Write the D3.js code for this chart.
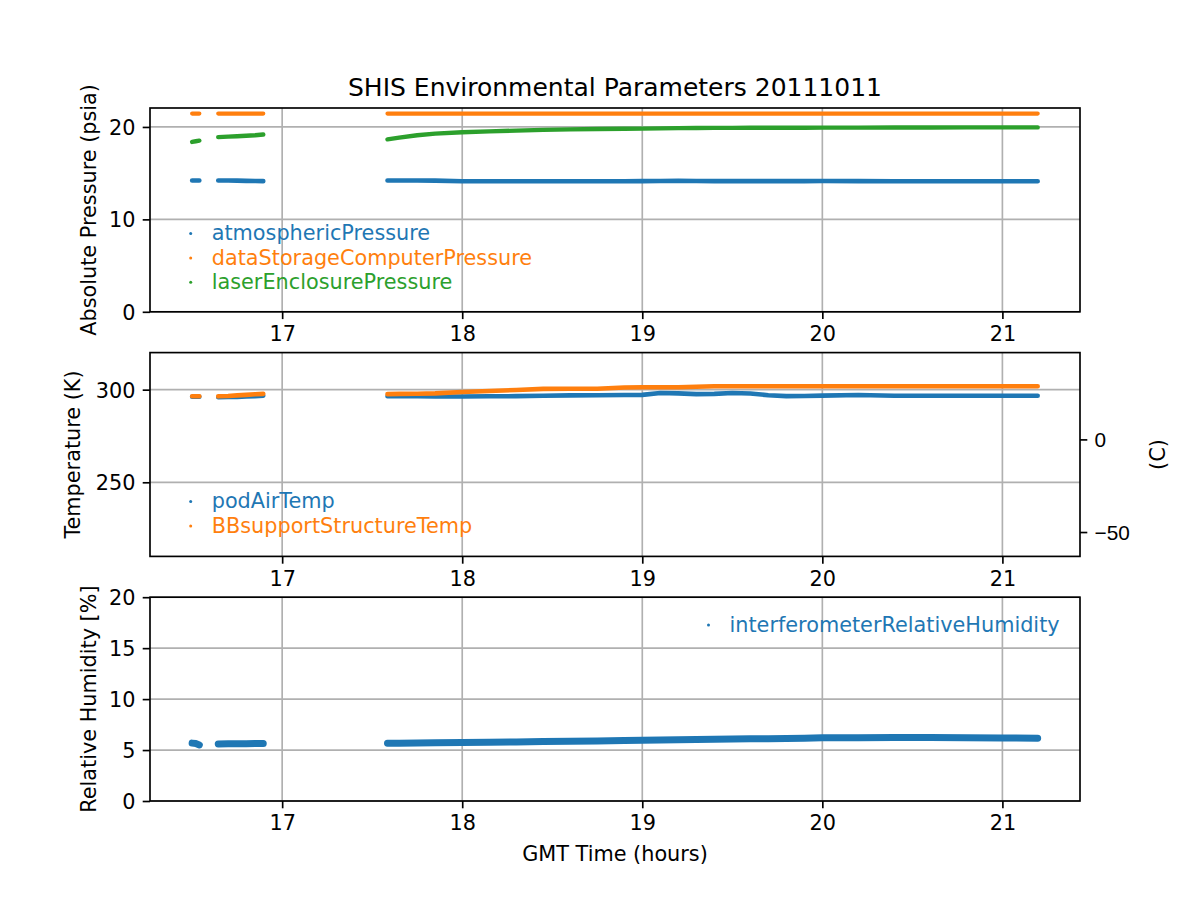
<!DOCTYPE html>
<html>
<head>
<meta charset="utf-8">
<script src="https://cdn.jsdelivr.net/npm/d3@7"></script>
<style>
  html, body { margin: 0; padding: 0; background: #fff; }
  svg { display: block; font-family: "DejaVu Sans", sans-serif; }
</style>
</head>
<body>
<svg id="chart" width="1200" height="900"></svg>
<script>
// ---------------- data ----------------
const title = "SHIS Environmental Parameters 20111011";
const xLabel = "GMT Time (hours)";
const xTicks = [17, 18, 19, 20, 21];

// sample times (hours GMT); null values mark data gaps
const hours = [16.50, 16.52, 16.54, 16.59, 16.645, 16.70, 16.75, 16.80, 16.85, 16.895, 17.2,
  17.585, 17.65, 17.75, 17.85, 18.0, 18.15, 18.3, 18.45, 18.6, 18.75, 18.9, 19.0, 19.1, 19.2,
  19.3, 19.4, 19.5, 19.6, 19.7, 19.8, 19.9, 20.0, 20.2, 20.4, 20.6, 20.8, 21.0, 21.196];

const atmosphericPressure = [14.2, 14.2, 14.2, null, 14.2, 14.2, 14.19, 14.17, 14.15, 14.14, null,
  14.2, 14.2, 14.2, 14.19, 14.13, 14.12, 14.12, 14.12, 14.12, 14.13, 14.13, 14.14, 14.15, 14.16,
  14.15, 14.14, 14.14, 14.14, 14.14, 14.14, 14.14, 14.15, 14.14, 14.13, 14.13, 14.13, 14.13, 14.13];

const dataStorageComputerPressure = [21.45, 21.45, 21.45, null, 21.45, 21.45, 21.45, 21.45, 21.45, 21.45, null,
  21.45, 21.45, 21.45, 21.45, 21.45, 21.45, 21.45, 21.45, 21.45, 21.45, 21.45, 21.45, 21.45, 21.45,
  21.45, 21.45, 21.45, 21.45, 21.45, 21.45, 21.45, 21.45, 21.45, 21.45, 21.45, 21.45, 21.45, 21.45];

const laserEnclosurePressure = [18.38, 18.45, 18.52, null, 18.9, 18.95, 19.0, 19.05, 19.1, 19.18, null,
  18.66, 18.85, 19.1, 19.28, 19.42, 19.52, 19.6, 19.68, 19.74, 19.78, 19.8, 19.82, 19.85, 19.87,
  19.89, 19.9, 19.9, 19.91, 19.92, 19.92, 19.92, 19.93, 19.93, 19.94, 19.94, 19.95, 19.95, 19.95];

const podAirTemp = [296.2, 296.2, 296.2, null, 295.9, 296.0, 296.1, 296.3, 296.5, 296.7, null,
  296.4, 296.4, 296.4, 296.3, 296.3, 296.4, 296.5, 296.7, 296.9, 297.0, 297.1, 297.2, 298.2, 298.0,
  297.6, 297.7, 298.2, 297.9, 297.0, 296.5, 296.6, 296.8, 297.1, 296.7, 296.7, 296.7, 296.7, 296.7];

const BBsupportStructureTemp = [296.4, 296.4, 296.4, null, 296.4, 296.6, 296.9, 297.2, 297.5, 297.7, null,
  297.6, 297.7, 297.8, 298.0, 298.7, 299.3, 299.8, 300.4, 300.5, 300.5, 301.2, 301.3, 301.3, 301.3,
  301.6, 301.8, 301.8, 301.8, 301.8, 301.8, 301.8, 301.8, 301.8, 301.8, 301.8, 301.8, 301.8, 301.8];

const interferometerRelativeHumidity = [5.68, 5.64, 5.5, null, 5.6, 5.62, 5.63, 5.63, 5.65, 5.65, null,
  5.66, 5.67, 5.69, 5.71, 5.73, 5.77, 5.8, 5.83, 5.87, 5.9, 5.94, 5.97, 5.99, 6.01,
  6.03, 6.05, 6.08, 6.1, 6.12, 6.14, 6.17, 6.2, 6.21, 6.22, 6.22, 6.2, 6.18, 6.16];

const pressureTicks = [0, 10, 20];
const tempTicksK = [250, 300];
const tempTicksC = [-50, 0];
const humidityTicks = [0, 5, 10, 15, 20];

const colors = ["#1f77b4", "#ff7f0e", "#2ca02c"];

// ---------------- layout ----------------
const svg = d3.select("#chart");
const L = 150, R = 1080;
const FS = 20.8;
const panels = [
  { top: 108, bottom: 311.8 },
  { top: 352.6, bottom: 556.4 },
  { top: 597.2, bottom: 801 }
];

const x = d3.scaleLinear().domain([16.266, 21.431]).range([L, R]);

const yP = d3.scaleLinear().domain([0, 22.05]).range([panels[0].bottom, panels[0].top]);
const yT = d3.scaleLinear().domain([210, 320]).range([panels[1].bottom, panels[1].top]);
const yC = d3.scaleLinear().domain([210 - 273.15, 320 - 273.15]).range([panels[1].bottom, panels[1].top]);
const yH = d3.scaleLinear().domain([0, 20]).range([panels[2].bottom, panels[2].top]);

function drawPanel(p, y, yTicks, series, yLabel, yLabelX) {
  const g = svg.append("g");
  const clipId = "clip" + Math.round(p.top);
  svg.append("clipPath").attr("id", clipId).append("rect")
    .attr("x", L).attr("y", p.top).attr("width", R - L).attr("height", p.bottom - p.top);

  // grid
  const grid = g.append("g");
  xTicks.forEach(t => grid.append("line")
    .attr("x1", x(t)).attr("x2", x(t)).attr("y1", p.top).attr("y2", p.bottom)
    .attr("stroke", "#b0b0b0").attr("stroke-width", 1.67));
  yTicks.forEach(t => grid.append("line")
    .attr("x1", L).attr("x2", R).attr("y1", y(t)).attr("y2", y(t))
    .attr("stroke", "#b0b0b0").attr("stroke-width", 1.67));

  // data
  const dg = g.append("g").attr("clip-path", `url(#${clipId})`);
  series.forEach(s => {
    const pts = hours.map((h, i) => [h, s.values[i]]);
    const line = d3.line().defined(d => d[1] != null).x(d => x(d[0])).y(d => y(d[1]));
    dg.append("path").attr("d", line(pts))
      .attr("fill", "none").attr("stroke", s.color).attr("stroke-width", s.width)
      .attr("stroke-linecap", "round").attr("stroke-linejoin", "round");
  });

  // axes
  const xa = g.append("g").attr("transform", `translate(0,${p.bottom})`)
    .call(d3.axisBottom(x).tickValues(xTicks).tickFormat(d3.format("d")).tickSize(7.3).tickPadding(7.3));
  const ya = g.append("g").attr("transform", `translate(${L},0)`)
    .call(d3.axisLeft(y).tickValues(yTicks).tickFormat(d3.format("d")).tickSize(7.3).tickPadding(7.3));
  [xa, ya].forEach(a => {
    a.select(".domain").remove();
    a.selectAll(".tick line").attr("stroke", "#000").attr("stroke-width", 1.67);
    a.selectAll(".tick text").attr("fill", "#000").style("font-size", FS + "px")
      .style("font-family", "DejaVu Sans");
  });
  ya.selectAll(".tick text").attr("dy", "0.365em");

  // spines
  g.append("rect").attr("x", L).attr("y", p.top).attr("width", R - L).attr("height", p.bottom - p.top)
    .attr("fill", "none").attr("stroke", "#000").attr("stroke-width", 1.67);

  // y label
  const cy = (p.top + p.bottom) / 2;
  g.append("text").attr("transform", `translate(${yLabelX},${cy}) rotate(-90)`)
    .attr("text-anchor", "middle").style("font-size", FS + "px").attr("fill", "#000").text(yLabel);
  return g;
}

function legend(g, items, mx, my0, step) {
  items.forEach((it, i) => {
    const yy = my0 + i * step;
    g.append("circle").attr("cx", mx).attr("cy", yy).attr("r", 1.5).attr("fill", it.color);
    g.append("text").attr("x", mx + 21).attr("y", yy + 6.8)
      .style("font-size", FS + "px").attr("fill", it.color).text(it.name);
  });
}

// Panel 1
const s1 = [
  { name: "atmosphericPressure", values: atmosphericPressure, color: colors[0], width: 4.6 },
  { name: "dataStorageComputerPressure", values: dataStorageComputerPressure, color: colors[1], width: 4.2 },
  { name: "laserEnclosurePressure", values: laserEnclosurePressure, color: colors[2], width: 4.4 }
];
const g1 = drawPanel(panels[0], yP, pressureTicks, s1, "Absolute Pressure (psia)", 95.9);
legend(g1, s1, 190.7, 233.5, 24.4);

// Panel 2
const s2 = [
  { name: "podAirTemp", values: podAirTemp, color: colors[0], width: 4.6 },
  { name: "BBsupportStructureTemp", values: BBsupportStructureTemp, color: colors[1], width: 4.6 }
];
const g2 = drawPanel(panels[1], yT, tempTicksK, s2, "Temperature (K)", 80.2);
legend(g2, s2, 190.7, 501.5, 24.4);

// right axis (C)
const ra = g2.append("g").attr("transform", `translate(${R},0)`)
  .call(d3.axisRight(yC).tickValues(tempTicksC).tickFormat(d => d < 0 ? "\u2212" + Math.abs(d) : String(d))
    .tickSize(7.3).tickPadding(7.3));
ra.select(".domain").remove();
ra.selectAll(".tick line").attr("stroke", "#000").attr("stroke-width", 1.67);
ra.selectAll(".tick text").attr("fill", "#000").style("font-size", FS + "px").attr("dy", "0.365em");
g2.append("text")
  .attr("transform", `translate(1164.6,${(panels[1].top + panels[1].bottom) / 2}) rotate(-90)`)
  .attr("text-anchor", "middle").style("font-size", FS + "px").attr("fill", "#000").text("(C)");

// Panel 3
const s3 = [
  { name: "interferometerRelativeHumidity", values: interferometerRelativeHumidity, color: colors[0], width: 7 }
];
const g3 = drawPanel(panels[2], yH, humidityTicks, s3, "Relative Humidity [%]", 95.9);
legend(g3, s3, 708.5, 625, 24.4);

// title and x label
svg.append("text").attr("x", (L + R) / 2).attr("y", 95.5).attr("text-anchor", "middle")
  .style("font-size", "25px").attr("fill", "#000").text(title);
svg.append("text").attr("x", (L + R) / 2).attr("y", 860.5).attr("text-anchor", "middle")
  .style("font-size", FS + "px").attr("fill", "#000").text(xLabel);
</script>
</body>
</html>
